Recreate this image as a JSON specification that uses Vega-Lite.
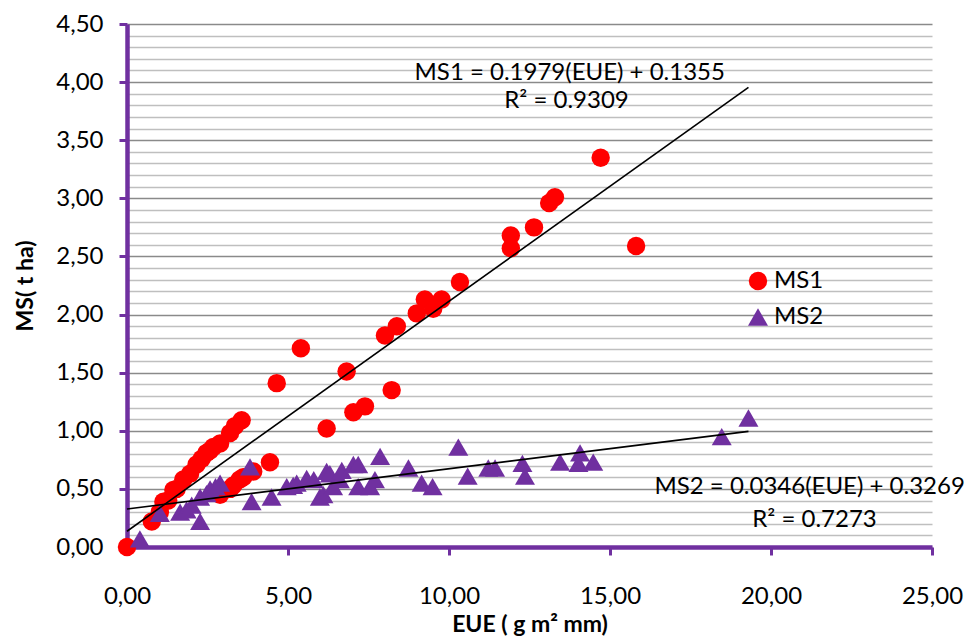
{
  "$schema": "https://vega.github.io/schema/vega-lite/v6.json",
  "width": 805,
  "height": 523,
  "autosize": {"type": "none"},
  "padding": {"left": 127, "top": 24, "right": 37, "bottom": 89},
  "background": "white",
  "config": {
    "view": {"stroke": null},
    "font": "Lato",
    "axis": {
      "labelFont": "Lato",
      "titleFont": "Lato",
      "labelColor": "#000000",
      "titleColor": "#000000",
      "labelFontSize": 24,
      "titleFontSize": 23,
      "titleFontWeight": "bold",
      "domainColor": "#7030A0",
      "domainWidth": 4.5,
      "tickColor": "#7030A0",
      "tickWidth": 3,
      "tickSize": 8,
      "labelFlush": false,
      "labelOverlap": false
    }
  },
  "datasets": {
    "points": [
      {"series": "MS1", "EUE": 0.0, "MS": 0.0},
      {"series": "MS1", "EUE": 0.77, "MS": 0.22},
      {"series": "MS1", "EUE": 1.02, "MS": 0.30},
      {"series": "MS1", "EUE": 1.13, "MS": 0.39},
      {"series": "MS1", "EUE": 1.28, "MS": 0.40},
      {"series": "MS1", "EUE": 1.44, "MS": 0.49},
      {"series": "MS1", "EUE": 1.54, "MS": 0.50},
      {"series": "MS1", "EUE": 1.75, "MS": 0.58},
      {"series": "MS1", "EUE": 1.96, "MS": 0.63},
      {"series": "MS1", "EUE": 2.16, "MS": 0.71},
      {"series": "MS1", "EUE": 2.32, "MS": 0.76},
      {"series": "MS1", "EUE": 2.47, "MS": 0.81},
      {"series": "MS1", "EUE": 2.58, "MS": 0.83},
      {"series": "MS1", "EUE": 2.68, "MS": 0.86},
      {"series": "MS1", "EUE": 2.89, "MS": 0.89},
      {"series": "MS1", "EUE": 3.20, "MS": 0.98},
      {"series": "MS1", "EUE": 3.35, "MS": 1.04},
      {"series": "MS1", "EUE": 3.56, "MS": 1.09},
      {"series": "MS1", "EUE": 2.89, "MS": 0.45},
      {"series": "MS1", "EUE": 3.20, "MS": 0.50},
      {"series": "MS1", "EUE": 3.30, "MS": 0.53},
      {"series": "MS1", "EUE": 3.50, "MS": 0.58},
      {"series": "MS1", "EUE": 3.61, "MS": 0.60},
      {"series": "MS1", "EUE": 3.92, "MS": 0.65},
      {"series": "MS1", "EUE": 4.44, "MS": 0.73},
      {"series": "MS1", "EUE": 4.65, "MS": 1.41},
      {"series": "MS1", "EUE": 5.40, "MS": 1.71},
      {"series": "MS1", "EUE": 6.20, "MS": 1.02},
      {"series": "MS1", "EUE": 6.82, "MS": 1.51},
      {"series": "MS1", "EUE": 7.03, "MS": 1.16},
      {"series": "MS1", "EUE": 7.39, "MS": 1.21},
      {"series": "MS1", "EUE": 8.22, "MS": 1.35},
      {"series": "MS1", "EUE": 8.01, "MS": 1.82},
      {"series": "MS1", "EUE": 8.38, "MS": 1.90},
      {"series": "MS1", "EUE": 9.00, "MS": 2.01},
      {"series": "MS1", "EUE": 9.25, "MS": 2.13},
      {"series": "MS1", "EUE": 9.51, "MS": 2.05},
      {"series": "MS1", "EUE": 9.77, "MS": 2.13},
      {"series": "MS1", "EUE": 10.34, "MS": 2.28},
      {"series": "MS1", "EUE": 11.92, "MS": 2.68},
      {"series": "MS1", "EUE": 11.92, "MS": 2.57},
      {"series": "MS1", "EUE": 12.64, "MS": 2.75},
      {"series": "MS1", "EUE": 13.11, "MS": 2.96},
      {"series": "MS1", "EUE": 13.29, "MS": 3.01},
      {"series": "MS1", "EUE": 14.71, "MS": 3.35},
      {"series": "MS1", "EUE": 15.81, "MS": 2.59},
      {"series": "MS2", "EUE": 0.40, "MS": 0.07},
      {"series": "MS2", "EUE": 1.02, "MS": 0.29},
      {"series": "MS2", "EUE": 1.65, "MS": 0.30},
      {"series": "MS2", "EUE": 1.85, "MS": 0.32},
      {"series": "MS2", "EUE": 2.01, "MS": 0.36},
      {"series": "MS2", "EUE": 2.27, "MS": 0.22},
      {"series": "MS2", "EUE": 2.27, "MS": 0.43},
      {"series": "MS2", "EUE": 2.47, "MS": 0.46},
      {"series": "MS2", "EUE": 2.58, "MS": 0.50},
      {"series": "MS2", "EUE": 2.75, "MS": 0.52},
      {"series": "MS2", "EUE": 2.89, "MS": 0.55},
      {"series": "MS2", "EUE": 3.82, "MS": 0.69},
      {"series": "MS2", "EUE": 3.87, "MS": 0.39},
      {"series": "MS2", "EUE": 4.49, "MS": 0.43},
      {"series": "MS2", "EUE": 4.96, "MS": 0.52},
      {"series": "MS2", "EUE": 5.16, "MS": 0.53},
      {"series": "MS2", "EUE": 5.27, "MS": 0.55},
      {"series": "MS2", "EUE": 5.58, "MS": 0.59},
      {"series": "MS2", "EUE": 5.80, "MS": 0.58},
      {"series": "MS2", "EUE": 5.99, "MS": 0.43},
      {"series": "MS2", "EUE": 6.10, "MS": 0.45},
      {"series": "MS2", "EUE": 6.20, "MS": 0.65},
      {"series": "MS2", "EUE": 6.30, "MS": 0.63},
      {"series": "MS2", "EUE": 6.40, "MS": 0.52},
      {"series": "MS2", "EUE": 6.61, "MS": 0.58},
      {"series": "MS2", "EUE": 6.67, "MS": 0.66},
      {"series": "MS2", "EUE": 7.03, "MS": 0.71},
      {"series": "MS2", "EUE": 7.18, "MS": 0.71},
      {"series": "MS2", "EUE": 7.18, "MS": 0.52},
      {"series": "MS2", "EUE": 7.55, "MS": 0.52},
      {"series": "MS2", "EUE": 7.70, "MS": 0.58},
      {"series": "MS2", "EUE": 7.86, "MS": 0.78},
      {"series": "MS2", "EUE": 8.74, "MS": 0.68},
      {"series": "MS2", "EUE": 9.15, "MS": 0.55},
      {"series": "MS2", "EUE": 9.49, "MS": 0.52},
      {"series": "MS2", "EUE": 10.29, "MS": 0.86},
      {"series": "MS2", "EUE": 10.58, "MS": 0.61},
      {"series": "MS2", "EUE": 11.22, "MS": 0.68},
      {"series": "MS2", "EUE": 11.43, "MS": 0.68},
      {"series": "MS2", "EUE": 12.28, "MS": 0.72},
      {"series": "MS2", "EUE": 12.36, "MS": 0.61},
      {"series": "MS2", "EUE": 13.45, "MS": 0.73},
      {"series": "MS2", "EUE": 14.07, "MS": 0.81},
      {"series": "MS2", "EUE": 14.02, "MS": 0.72},
      {"series": "MS2", "EUE": 14.48, "MS": 0.73},
      {"series": "MS2", "EUE": 18.47, "MS": 0.95},
      {"series": "MS2", "EUE": 19.30, "MS": 1.11}
    ],
    "trend": [
      {"series": "MS1", "EUE": 0.0, "MS": 0.1355},
      {"series": "MS1", "EUE": 19.3, "MS": 3.955},
      {"series": "MS2", "EUE": 0.0, "MS": 0.3269},
      {"series": "MS2", "EUE": 19.3, "MS": 0.9947}
    ],
    "labels": [
      {"EUE": 13.75, "MS": 4.08, "text": "MS1 = 0.1979(EUE) + 0.1355"},
      {"EUE": 13.65, "MS": 3.84, "text": "R² = 0.9309"},
      {"EUE": 21.2, "MS": 0.52, "text": "MS2 = 0.0346(EUE) + 0.3269"},
      {"EUE": 21.35, "MS": 0.23, "text": "R² = 0.7273"}
    ]
  },
  "encoding": {
    "x": {
      "field": "EUE", "type": "quantitative",
      "scale": {"domain": [0, 25], "nice": false},
      "axis": {
        "title": "EUE ( g m² mm)",
        "values": [0, 5, 10, 15, 20, 25],
        "labelExpr": "replace(format(datum.value, '.2f'), '.', ',')",
        "grid": false,
        "labelPadding": 29,
        "titlePadding": 5
      }
    },
    "y": {
      "field": "MS", "type": "quantitative",
      "scale": {"domain": [0, 4.5], "nice": false},
      "axis": {
        "title": "MS( t ha)",
        "values": [0, 0.1, 0.2, 0.3, 0.4, 0.5, 0.6, 0.7, 0.8, 0.9, 1, 1.1, 1.2, 1.3, 1.4, 1.5, 1.6, 1.7, 1.8, 1.9, 2, 2.1, 2.2, 2.3, 2.4, 2.5, 2.6, 2.7, 2.8, 2.9, 3, 3.1, 3.2, 3.3, 3.4, 3.5, 3.6, 3.7, 3.8, 3.9, 4, 4.1, 4.2, 4.3, 4.4, 4.5],
        "labelExpr": "abs(datum.value * 2 - round(datum.value * 2)) < 0.001 ? replace(format(datum.value, '.2f'), '.', ',') : ''",
        "tickOpacity": {"condition": {"test": "abs(datum.value * 2 - round(datum.value * 2)) < 0.001", "value": 1}, "value": 0},
        "grid": true,
        "gridColor": {"condition": {"test": "abs(datum.value * 2 - round(datum.value * 2)) < 0.001", "value": "#8a8a8a"}, "value": "#bfbfbf"},
        "gridWidth": 1.6,
        "labelPadding": 16,
        "titlePadding": 18
      }
    }
  },
  "layer": [
    {
      "data": {"name": "points"},
      "mark": {"type": "point", "filled": true, "opacity": 1},
      "encoding": {
        "color": {
          "field": "series", "type": "nominal",
          "scale": {"domain": ["MS1", "MS2"], "range": ["#FF0000", "#7030A0"]},
          "legend": {
            "title": null,
            "orient": "none",
            "legendX": 619,
            "legendY": 245,
            "labelFontSize": 24,
            "labelFont": "Lato",
            "labelColor": "#000000",
            "rowPadding": 12,
            "labelOffset": 4,
            "padding": 0
          }
        },
        "shape": {
          "field": "series", "type": "nominal",
          "scale": {"domain": ["MS1", "MS2"], "range": ["circle", "triangle-up"]}
        },
        "size": {
          "field": "series", "type": "nominal",
          "scale": {"domain": ["MS1", "MS2"], "range": [340, 400]}
        }
      }
    },
    {
      "data": {"name": "trend"},
      "mark": {"type": "line", "color": "#000000", "strokeWidth": 1.6},
      "encoding": {
        "detail": {"field": "series"}
      }
    },
    {
      "data": {"name": "labels"},
      "mark": {"type": "text", "font": "Lato", "fontSize": 24, "color": "#000000", "align": "center", "baseline": "middle"},
      "encoding": {
        "text": {"field": "text"}
      }
    }
  ]
}
